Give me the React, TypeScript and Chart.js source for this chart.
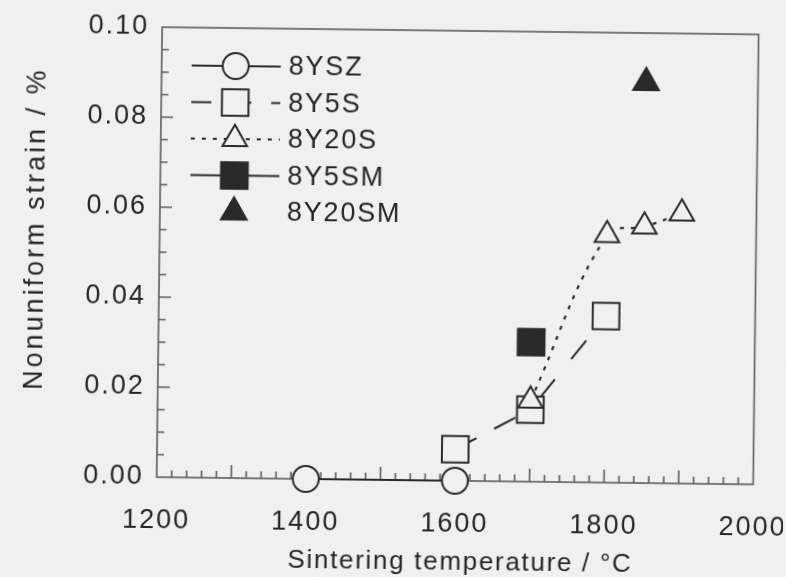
import React, { useEffect, useRef } from 'react';
import { Chart, registerables } from 'chart.js';

Chart.register(...registerables);

// Sintering temperature (°C) and nonuniform strain (%) per composition
const temp8YSZ = [1400, 1600];
const strain8YSZ = [0, 0];
const temp8Y5S = [1600, 1700, 1800];
const strain8Y5S = [0.007, 0.016, 0.037];
const temp8Y20S = [1700, 1800, 1850, 1900];
const strain8Y20S = [0.018, 0.055, 0.057, 0.06];
const temp8Y5SM = [1700];
const strain8Y5SM = [0.031];
const temp8Y20SM = [1850];
const strain8Y20SM = [0.089];

const seriesNames = ['8YSZ', '8Y5S', '8Y20S', '8Y5SM', '8Y20SM'];
const xTickValues = [1200, 1400, 1600, 1800, 2000];
const yTickLabels = ['0.00', '0.02', '0.04', '0.06', '0.08', '0.10'];
const xTitle = 'Sintering temperature / °C';
const yTitle = 'Nonuniform strain / %';

const BG = '#f1f0f0';
const INK = '#2a2a2a';
const TEXT = '#262626';
const FRAME = '#5e5e5e';
const FONT = "'Liberation Sans', Arial, Helvetica, sans-serif";

const pts = (xs: number[], ys: number[]) => xs.map((x, i) => ({ x, y: ys[i] }));

// line style used for each series in the legend sample
const legendLine: Record<string, number[] | null> = {
  '8YSZ': [],
  '8Y5S': [20, 20],
  '8Y20S': [4, 7],
  '8Y5SM': [],
  '8Y20SM': null,
};

function drawMarker(ctx: CanvasRenderingContext2D, shape: string, x: number, y: number, r: number, fill: string) {
  ctx.beginPath();
  if (shape === 'circle') {
    ctx.arc(x, y, r, 0, Math.PI * 2);
  } else if (shape === 'rect') {
    const s = r * Math.SQRT1_2;
    ctx.rect(x - s, y - s, 2 * s, 2 * s);
  } else {
    ctx.moveTo(x, y - r);
    ctx.lineTo(x + r * Math.sin((2 * Math.PI) / 3), y - r * Math.cos((2 * Math.PI) / 3));
    ctx.lineTo(x + r * Math.sin((4 * Math.PI) / 3), y - r * Math.cos((4 * Math.PI) / 3));
    ctx.closePath();
  }
  ctx.fillStyle = fill;
  ctx.fill();
  ctx.lineWidth = 2;
  ctx.strokeStyle = INK;
  ctx.setLineDash([]);
  ctx.stroke();
}

const framePlugin = {
  id: 'frameAndLegend',
  beforeDraw(chart: any) {
    const ctx = chart.ctx as CanvasRenderingContext2D;
    ctx.save();
    ctx.fillStyle = BG;
    ctx.fillRect(0, 0, chart.width, chart.height);
    ctx.restore();
    (ctx as any).letterSpacing = '2px';
  },
  beforeDatasetsDraw(chart: any) {
    const ctx = chart.ctx as CanvasRenderingContext2D;
    const { left, right, top, bottom } = chart.chartArea;
    const xs = chart.scales.x;
    const ys = chart.scales.y;
    ctx.save();
    ctx.strokeStyle = FRAME;
    ctx.lineWidth = 1.6;
    ctx.setLineDash([]);
    ctx.strokeRect(left, top, right - left, bottom - top);
    // inward ticks on the bottom axis: every 20 °C, longer every 100 °C
    ctx.beginPath();
    for (let i = 1; i < 40; i++) {
      const px = xs.getPixelForValue(1200 + i * 20);
      const len = i % 5 === 0 ? 13 : 7;
      ctx.moveTo(px, bottom);
      ctx.lineTo(px, bottom - len);
    }
    // inward ticks on the left axis: every 0.005, longer every 0.02
    for (let i = 1; i < 20; i++) {
      const py = ys.getPixelForValue(i * 0.005);
      const len = i % 4 === 0 ? 12 : 7;
      ctx.moveTo(left, py);
      ctx.lineTo(left + len, py);
    }
    ctx.stroke();
    ctx.restore();
  },
  afterDatasetsDraw(chart: any) {
    const ctx = chart.ctx as CanvasRenderingContext2D;
    const { left, right, top } = chart.chartArea;
    ctx.save();
    // legend in the upper-left corner of the plot
    chart.data.datasets.forEach((ds: any) => {
      const i = seriesNames.indexOf(ds.label);
      const rowY = top + 38 + i * 36.5;
      const dash = legendLine[ds.label];
      if (dash) {
        ctx.beginPath();
        ctx.setLineDash(dash);
        ctx.lineWidth = 1.8;
        ctx.strokeStyle = INK;
        ctx.moveTo(left + 30, rowY);
        ctx.lineTo(left + 119, rowY);
        ctx.stroke();
      }
      drawMarker(ctx, ds.pointStyle, left + 74, rowY, ds.pointRadius, ds.pointBackgroundColor);
      ctx.fillStyle = TEXT;
      ctx.font = `27px ${FONT}`;
      (ctx as any).letterSpacing = '1.8px';
      ctx.textAlign = 'left';
      ctx.textBaseline = 'middle';
      ctx.fillText(ds.label, left + 127, rowY + 1);
    });
    // axis titles
    ctx.fillStyle = TEXT;
    ctx.font = `26px ${FONT}`;
    (ctx as any).letterSpacing = '1.7px';
    ctx.textAlign = 'center';
    ctx.textBaseline = 'middle';
    ctx.fillText(xTitle, (left + right) / 2 + 6, chart.height - 15);
    ctx.translate(36, top + 203);
    ctx.rotate(-Math.PI / 2);
    ctx.font = `27px ${FONT}`;
    (ctx as any).letterSpacing = '3px';
    ctx.fillText(yTitle, 0, 0);
    ctx.restore();
  },
};

export default function App() {
  const ref = useRef<HTMLCanvasElement>(null);

  useEffect(() => {
    document.body.style.margin = '0';
    document.body.style.background = BG;
    const tickFont = { family: FONT, size: 27 };
    const chart = new Chart(ref.current as HTMLCanvasElement, {
      type: 'scatter',
      data: {
        datasets: [
          {
            label: seriesNames[0],
            data: pts(temp8YSZ, strain8YSZ),
            showLine: true,
            borderColor: INK,
            borderWidth: 2,
            pointStyle: 'circle',
            pointRadius: 13,
            pointBackgroundColor: BG,
            pointBorderColor: INK,
            pointBorderWidth: 2,
            clip: false,
            order: 4,
          },
          {
            label: seriesNames[1],
            data: pts(temp8Y5S, strain8Y5S),
            showLine: true,
            borderColor: INK,
            borderWidth: 2,
            segment: {
              borderDash: (c: any) => (c.p0DataIndex === 0 ? [24, 20] : [24, 26]),
              borderDashOffset: (c: any) => (c.p0DataIndex === 0 ? 0 : 35),
            },
            pointStyle: 'rect',
            pointRadius: 18.8,
            pointBackgroundColor: BG,
            pointBorderColor: INK,
            pointBorderWidth: 2,
            clip: false,
            order: 3,
          },
          {
            label: seriesNames[2],
            data: pts(temp8Y20S, strain8Y20S),
            showLine: true,
            borderColor: INK,
            borderWidth: 2.2,
            borderDash: [4, 7],
            tension: 0.4,
            pointStyle: 'triangle',
            pointRadius: 14.2,
            pointBackgroundColor: BG,
            pointBorderColor: INK,
            pointBorderWidth: 2,
            clip: false,
            order: 2,
          },
          {
            label: seriesNames[3],
            data: pts(temp8Y5SM, strain8Y5SM),
            showLine: false,
            borderColor: INK,
            pointStyle: 'rect',
            pointRadius: 18.9,
            pointBackgroundColor: INK,
            pointBorderColor: INK,
            pointBorderWidth: 2,
            clip: false,
            order: 0,
          },
          {
            label: seriesNames[4],
            data: pts(temp8Y20SM, strain8Y20SM),
            showLine: false,
            borderColor: INK,
            pointStyle: 'triangle',
            pointRadius: 14.8,
            pointBackgroundColor: INK,
            pointBorderColor: INK,
            pointBorderWidth: 2,
            clip: false,
            order: 1,
          },
        ],
      },
      options: {
        responsive: false,
        animation: false,
        devicePixelRatio: 1,
        events: [],
        layout: { padding: { top: 30, right: 30.5, left: 0, bottom: 0 } },
        plugins: {
          legend: { display: false },
          tooltip: { enabled: false },
        },
        scales: {
          x: {
            type: 'linear',
            min: 1200,
            max: 2000,
            grid: { display: false, drawTicks: false },
            border: { display: false },
            afterBuildTicks: (s: any) => {
              s.ticks = xTickValues.map((v) => ({ value: v }));
            },
            afterFit: (s: any) => {
              s.height = 97;
              s.paddingLeft = 0;
              s.paddingRight = 0;
            },
            ticks: {
              padding: 27,
              color: TEXT,
              font: tickFont,
              maxRotation: 0,
              autoSkip: false,
              callback: (v: any) => String(v),
            },
          },
          y: {
            type: 'linear',
            min: 0,
            max: 0.1,
            grid: { display: false, drawTicks: false },
            border: { display: false },
            afterBuildTicks: (s: any) => {
              s.ticks = yTickLabels.map((t) => ({ value: parseFloat(t) }));
            },
            afterFit: (s: any) => {
              s.width = 159;
            },
            ticks: {
              padding: 13,
              color: TEXT,
              font: tickFont,
              autoSkip: false,
              callback: (v: any) => Number(v).toFixed(2),
            },
          },
        },
      },
      plugins: [framePlugin],
    } as any);
    return () => chart.destroy();
  }, []);

  return (
    <div style={{ width: 786, height: 577, overflow: 'hidden', background: BG, position: 'relative' }}>
      <div style={{ width: 786, height: 577, transform: 'rotate(0.7deg)' }}>
        <canvas ref={ref} width={786} height={577} style={{ display: 'block' }} />
      </div>
    </div>
  );
}
